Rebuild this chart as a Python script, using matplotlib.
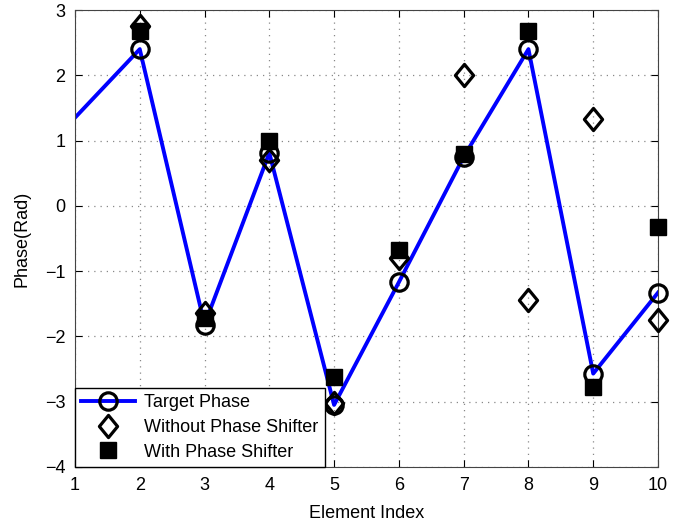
import matplotlib
matplotlib.use("Agg")
import matplotlib.pyplot as plt
from matplotlib.path import Path

plt.rcParams['font.family'] = ['Liberation Sans', 'DejaVu Sans']

element_index = [1, 2, 3, 4, 5, 6, 7, 8, 9, 10]
target_phase = [1.35, 2.40, -1.82, 0.81, -3.05, -1.17, 0.75, 2.40, -2.57, -1.33]
marker_index = [2, 3, 4, 5, 6, 7, 8, 9, 10]
without_shifter = [2.76, -1.64, 0.70, -3.02, -0.80, 2.00, -1.45, 1.33, -1.75]
with_shifter = [2.68, -1.72, 0.99, -2.62, -0.68, 0.80, 2.68, -2.77, -0.33]
x_ticks = [1, 2, 3, 4, 5, 6, 7, 8, 9, 10]
y_ticks = [-4, -3, -2, -1, 0, 1, 2, 3]

diamond = Path([(0, 1), (0.82, 0), (0, -1), (-0.82, 0), (0, 1)],
               [Path.MOVETO, Path.LINETO, Path.LINETO, Path.LINETO, Path.CLOSEPOLY])

fig = plt.figure(figsize=(6.84, 5.27), dpi=100)
ax = fig.add_axes([0.1096, 0.114, 0.8524, 0.867])

ax.plot(element_index, target_phase, color='#0000ff', lw=2.8, zorder=2)
ax.plot(element_index[1:], target_phase[1:], ls='none', marker='o', ms=12.5,
        mfc='none', mec='black', mew=2.3, zorder=3, clip_on=False)
ax.plot(marker_index, without_shifter, ls='none', marker=diamond, ms=16,
        mfc='none', mec='black', mew=2.3, zorder=3, clip_on=False)
ax.plot(marker_index, with_shifter, ls='none', marker='s', ms=11.5,
        mfc='black', mec='black', zorder=3, clip_on=False)

# legend proxies
h1, = ax.plot([], [], color='#0000ff', lw=2.8, marker='o', ms=12.5,
              mfc='none', mec='black', mew=2.3)
h2, = ax.plot([], [], ls='none', marker=diamond, ms=16, mfc='none', mec='black', mew=2.3)
h3, = ax.plot([], [], ls='none', marker='s', ms=11.5, mfc='black', mec='black')
leg = ax.legend([h1, h2, h3], ['Target Phase', 'Without Phase Shifter', 'With Phase Shifter'],
                loc='lower left', borderaxespad=0, fontsize=13, fancybox=False,
                framealpha=1, edgecolor='black', handlelength=3.0, labelspacing=0.42,
                borderpad=0.35, handletextpad=0.5)
leg.get_frame().set_linewidth(1.0)
leg.set_zorder(5)

ax.set_xlim(1, 10)
ax.set_ylim(-4, 3)
ax.set_xticks(x_ticks)
ax.set_yticks(y_ticks)
ax.tick_params(direction='in', top=True, right=True, labelsize=13, length=5, pad=7)
ax.grid(True, ls=(0, (1, 4)), color='#888888', lw=0.9)
for s in ax.spines.values():
    s.set_color('#444444')
ax.set_xlabel('Element Index', fontsize=13, labelpad=8)
ax.set_ylabel('Phase(Rad)', fontsize=13, labelpad=10)

fig.savefig('out.png', dpi=100)
